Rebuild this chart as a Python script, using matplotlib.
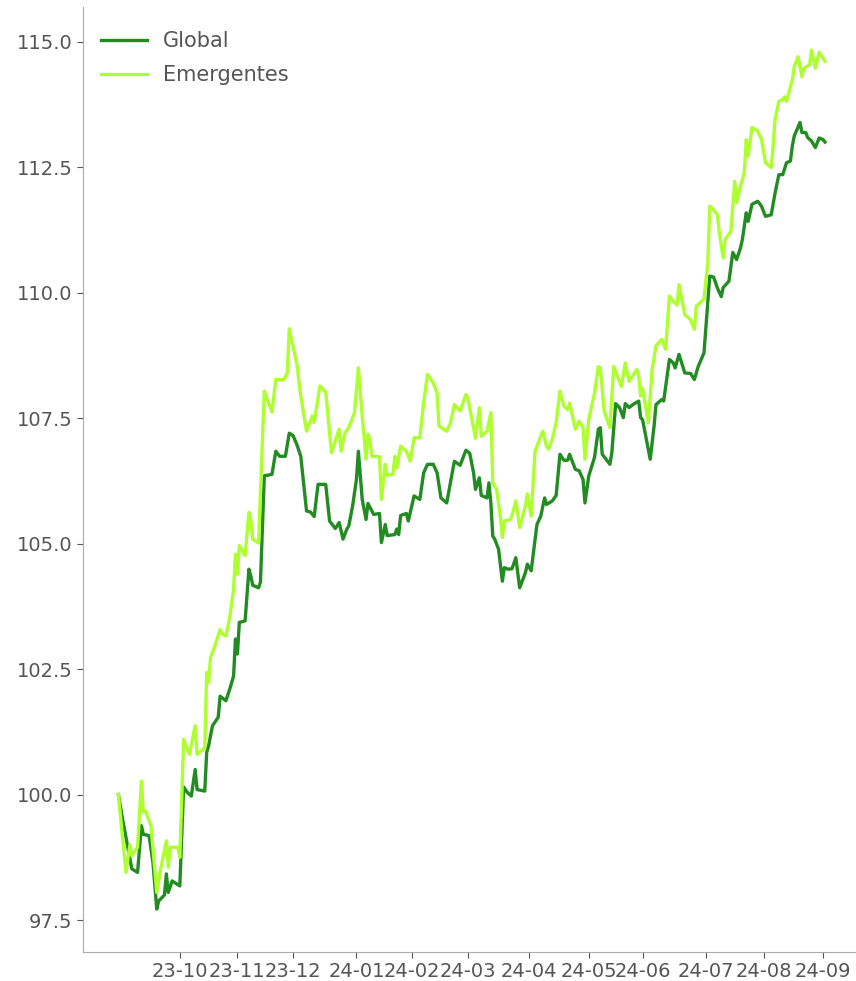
import matplotlib
matplotlib.use("Agg")
import matplotlib.pyplot as plt
import matplotlib.dates as mdates
import matplotlib.ticker as mticker
import pandas as pd

start_date = "2023-10-31"

# days relative to start_date, values (index base 100)
global_days = [-32, -30, -25, -22, -20, -19, -16, -14, -12, -11, -8, -7, -6, -4, 0,
               2, 4, 6, 8, 9, 13, 14, 15, 17, 20, 21, 24, 26, 28, 29, 30, 31, 34, 36, 37,
               38, 41, 42, 44, 48, 50, 52, 55, 57, 59, 61, 63, 66, 68, 70, 72, 76, 78,
               81, 83, 85, 87, 88, 90, 92, 93, 95, 97, 98, 101, 104, 105, 107, 108, 112,
               113, 114, 115, 118, 119, 122, 125, 127, 129, 132, 134, 136, 139, 143, 146,
               149, 151, 153, 154, 156, 157, 160, 161, 162, 163, 164, 166, 168, 169, 171,
               173, 175, 177, 180, 181, 183, 186, 188, 190, 191, 194, 196, 198, 200, 202,
               203, 206, 208, 210, 211, 213, 216, 218, 219, 220, 224, 225, 227, 229, 231,
               232, 234, 236, 239, 240, 241, 245, 247, 248, 251, 252, 255, 257, 258, 260,
               263, 266, 268, 270, 273, 276, 278, 280, 282, 283, 286, 288, 290, 292, 293,
               295, 296, 298, 301, 303, 305, 308, 310, 312, 314, 316, 318, 319, 320, 323,
               324, 326, 327, 329, 331, 333, 335, 336]
global_vals = [100.0, 99.55, 98.52, 98.45, 99.38, 99.21, 99.18, 98.65, 97.72, 97.88,
               98.0, 98.42, 98.05, 98.28, 98.18, 100.15, 100.04, 99.97, 100.5, 100.1,
               100.07, 100.84, 100.97, 101.37, 101.54, 101.96, 101.87, 102.1, 102.36,
               103.1, 102.8, 103.43, 103.46, 104.49, 104.35, 104.17, 104.12, 104.23,
               106.35, 106.38, 106.84, 106.74, 106.74, 107.2, 107.15, 106.97, 106.74,
               105.65, 105.63, 105.54, 106.18, 106.18, 105.45, 105.3, 105.42, 105.09,
               105.29, 105.35, 105.75, 106.28, 106.84, 105.88, 105.48, 105.8, 105.58,
               105.6, 105.02, 105.38, 105.16, 105.18, 105.29, 105.18, 105.56, 105.6,
               105.45, 105.95, 105.88, 106.41, 106.58, 106.58, 106.41, 105.91, 105.81,
               106.64, 106.56, 106.86, 106.8, 106.41, 106.08, 106.31, 105.96, 105.91,
               106.21, 105.81, 105.15, 105.09, 104.89, 104.25, 104.52, 104.49, 104.5,
               104.72, 104.12, 104.42, 104.59, 104.46, 105.38, 105.55, 105.91, 105.78,
               105.85, 105.96, 106.78, 106.66, 106.66, 106.78, 106.48, 106.45, 106.28,
               105.81, 106.35, 106.72, 107.28, 107.31, 106.78, 106.58, 106.81, 107.79,
               107.71, 107.51, 107.79, 107.71, 107.77, 107.84, 107.51, 107.47, 106.68,
               107.34, 107.77, 107.87, 107.84, 108.67, 108.6, 108.5, 108.77, 108.4,
               108.39, 108.27, 108.53, 108.8, 110.33, 110.31, 110.09, 109.92, 110.1,
               110.23, 110.8, 110.66, 110.89, 111.06, 111.59, 111.42, 111.76, 111.82,
               111.72, 111.52, 111.55, 111.98, 112.35, 112.35, 112.59, 112.62, 112.92,
               113.12, 113.39, 113.19, 113.19, 113.09, 113.02, 112.89, 113.08, 113.05,
               113.0]

emerg_days = [-32, -31, -28, -26, -25, -22, -20, -19, -18, -15, -12, -10, -7, -6, -5,
              -1, 0, 2, 5, 8, 9, 13, 14, 15, 16, 18, 21, 22, 24, 26, 28, 29, 30, 31, 34,
              36, 37, 38, 41, 44, 48, 50, 54, 56, 57, 61, 63, 66, 69, 70, 73, 76, 79, 83,
              84, 86, 88, 91, 93, 95, 97, 98, 99, 100, 104, 105, 107, 108, 111, 112, 113,
              115, 118, 120, 122, 125, 127, 129, 132, 134, 135, 139, 141, 143, 146, 149,
              150, 154, 156, 157, 160, 162, 163, 165, 167, 168, 169, 172, 173, 175, 177,
              180, 181, 183, 185, 187, 189, 191, 192, 194, 196, 198, 200, 202, 203, 206,
              208, 210, 211, 213, 216, 218, 219, 221, 224, 226, 228, 230, 232, 234, 238,
              239, 240, 241, 244, 246, 248, 251, 253, 255, 257, 259, 260, 263, 266, 268,
              269, 273, 275, 276, 278, 280, 281, 283, 284, 287, 289, 290, 292, 294, 295,
              296, 298, 301, 303, 305, 308, 309, 310, 312, 314, 315, 316, 319, 320, 322,
              324, 325, 328, 329, 331, 333, 336]
emerg_vals = [100.0, 99.6, 98.45, 99.0, 98.78, 98.95, 100.27, 99.65, 99.68, 99.38,
              98.05, 98.51, 99.08, 98.55, 98.95, 98.95, 98.75, 101.1, 100.8, 101.37,
              100.8, 100.93, 102.43, 102.23, 102.73, 102.93, 103.29, 103.2, 103.16,
              103.52, 104.09, 104.79, 104.39, 104.96, 104.76, 105.62, 105.48, 105.09,
              105.01, 108.04, 107.62, 108.27, 108.26, 108.4, 109.28, 108.57, 107.94,
              107.24, 107.54, 107.41, 108.14, 108.02, 106.81, 107.28, 106.84, 107.2,
              107.31, 107.61, 108.5, 107.54, 106.68, 107.18, 107.08, 106.74, 106.73,
              105.88, 106.58, 106.36, 106.38, 106.74, 106.51, 106.94, 106.84, 106.64,
              107.11, 107.11, 107.8, 108.37, 108.2, 108.0, 107.34, 107.24, 107.41,
              107.77, 107.64, 107.97, 107.9, 107.1, 107.71, 107.14, 107.24, 107.61,
              106.21, 106.08, 105.52, 105.12, 105.45, 105.48, 105.55, 105.85, 105.32,
              105.75, 105.99, 105.55, 106.84, 107.04, 107.24, 106.94, 106.88, 107.08,
              107.41, 108.04, 107.74, 107.67, 107.8, 107.28, 107.44, 107.31, 106.68,
              107.48, 108.0, 108.53, 108.5, 107.64, 107.31, 108.53, 108.33, 108.13,
              108.6, 108.23, 108.47, 108.33, 107.94, 108.1, 107.41, 108.47, 108.94,
              109.07, 108.87, 109.93, 109.83, 109.75, 110.16, 109.56, 109.46, 109.27,
              109.73, 109.87, 110.59, 111.72, 111.65, 111.55, 111.19, 110.69, 111.06,
              111.22, 112.22, 111.79, 112.12, 112.39, 113.05, 112.72, 113.29, 113.22,
              113.05, 112.59, 112.49, 112.92, 113.45, 113.81, 113.85, 113.9, 113.81,
              114.24, 114.5, 114.7, 114.3, 114.47, 114.54, 114.83, 114.47, 114.79,
              114.61]

series_names = ["Global", "Emergentes"]
series_colors = ["#228B22", "#ADFF2F"]
tick_dates = pd.date_range("2023-10-01", "2024-09-30", freq="BME")
y_ticks = [97.5, 100.0, 102.5, 105.0, 107.5, 110.0, 112.5, 115.0]

base = pd.Timestamp(start_date)
g_dates = base + pd.to_timedelta(global_days, unit="D")
e_dates = base + pd.to_timedelta(emerg_days, unit="D")

fig = plt.figure(figsize=(8.56, 9.81), dpi=100)
ax = fig.add_axes([0.097, 0.0296, 0.908, 0.963])

ax.plot(g_dates, global_vals, color=series_colors[0], lw=2.4, label=series_names[0])
ax.plot(e_dates, emerg_vals, color=series_colors[1], lw=2.4, label=series_names[1])

ax.set_xticks(tick_dates)
ax.xaxis.set_major_formatter(mdates.DateFormatter("%y-%m"))
ax.set_yticks(y_ticks)
ax.yaxis.set_major_formatter(mticker.FormatStrFormatter("%.1f"))

for s in ["top", "right"]:
    ax.spines[s].set_visible(False)
for s in ["left", "bottom"]:
    ax.spines[s].set_color("#aaaaaa")
ax.tick_params(axis="both", colors="#555555", labelsize=14, length=4)

leg = ax.legend(loc="upper left", bbox_to_anchor=(0.004, 0.990), frameon=False,
                fontsize=15, handlelength=2.2, labelspacing=0.65, borderaxespad=0.3)
for t in leg.get_texts():
    t.set_color("#555555")

fig.savefig("out.png", dpi=100)
